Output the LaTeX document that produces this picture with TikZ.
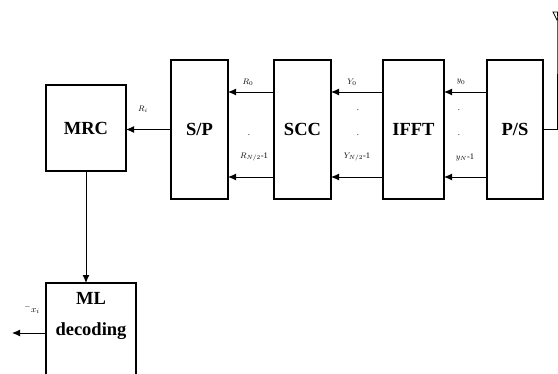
\documentclass[tikz,border=0pt]{standalone}
\usepackage{fontspec}
\setmainfont{Liberation Serif}
\usetikzlibrary{arrows.meta,positioning}

\begin{document}
\begin{tikzpicture}[
  x=1pt, y=-1pt,
  font=\fontsize{18.5}{20}\selectfont\bfseries,
  >={Latex[length=8pt,width=7pt]},
  block/.style={draw, line width=1.2pt, minimum width=57pt, minimum height=139pt, inner sep=0pt, outer sep=0pt},
  sig/.style={font=\fontsize{8.5}{9}\selectfont, inner sep=0.5pt},
  arr/.style={->, line width=1pt}
]
\useasboundingbox (0,0) rectangle (558,373);
\node[block] (sp) at (199.5,129.5) {S/P};
\node[block, right=46pt of sp] (scc) {SCC};
\node[block, right=52pt of scc, minimum width=61pt] (ifft) {IFFT};
\node[block, right=43pt of ifft, minimum width=56pt] (ps) {P/S};
\foreach \a/\b in {scc/sp, ifft/scc, ps/ifft} {
  \draw[arr] ([yshift=37.5pt]\a.west) -- ([yshift=37.5pt]\b.east);
  \draw[arr] ([yshift=-47.5pt]\a.west) -- ([yshift=-47.5pt]\b.east);
}

% signal labels
\node[sig] (r0) at (248,82) {$R_0$};
\node[sig] (rn) at (254,157) {$R_{N/2}$-1};
\node[sig] (y0) at (352,82) {$Y_0$};
\node[sig] (yn) at (357,157) {$Y_{N/2}$-1};
\node[sig] (t0) at (461,82) {$y_0$};
\node[sig] (tn) at (465,157) {$y_N$-1};
\foreach \x/\y [count=\i] in {249/135, 358/110, 358/135, 459/110, 459/135}
  \node[sig] (dot\i) at (\x,\y) {.};

% receiver side
\node[block, minimum width=80pt, minimum height=86pt] (mrc) at (86,128) {MRC};
\draw[arr] (sp.west) -- (sp.west -| mrc.east);
\node[sig] (ri) at (143,109) {$R_i$};
\node[block, minimum width=90pt, minimum height=110pt] (ml) at (91,338) {};
\node (mltxt) at (91,298) {ML};
\node (dectxt) at (91,331) {decoding};
\draw[arr] (mrc.south) -- (mrc.south |- ml.north);
\coordinate (xout) at (12,333);
\draw[arr] (ml.west |- xout) -- (xout);
\node[sig, font=\fontsize{9.5}{10}\selectfont] (xi) at (32,309) {${}^{-}x_i$};

% antenna
\coordinate (ant) at (557,20);
\draw[line width=1pt] (ps.east) -| (ant) -- ++(0,-8);
\draw[line width=0.8pt] (ant) -- ++(-4,-8) -- ++(8,0) -- cycle;
\end{tikzpicture}
\end{document}
